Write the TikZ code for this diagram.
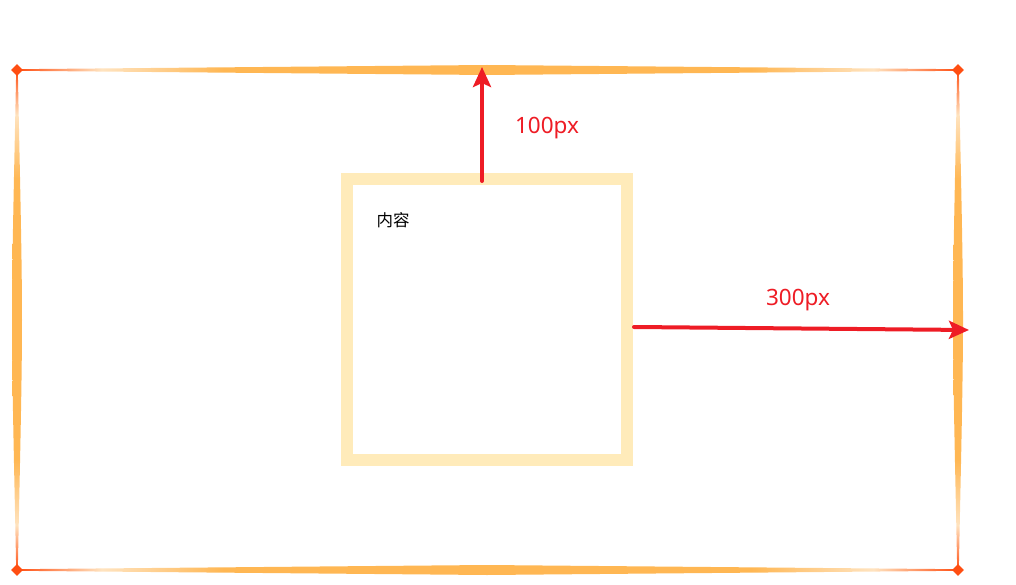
\documentclass[tikz,border=0pt]{standalone}
\usepackage{fontspec}
\setmainfont{Noto Sans}
\newfontfamily\cjk{Noto Sans CJK SC}
\usetikzlibrary{arrows.meta,shapes.geometric}
\definecolor{edgered}{HTML}{FF4E12}
\definecolor{edgepale}{HTML}{FFE3BF}
\definecolor{edgeorange}{HTML}{FFB753}
\definecolor{boxyellow}{HTML}{FFEBBA}
\definecolor{arrowred}{HTML}{EE1C25}
\pgfdeclarehorizontalshading{edgeshade}{100bp}{color(0bp)=(edgered); color(25bp)=(edgered); color(29.5bp)=(edgepale); color(36bp)=(edgeorange); color(64bp)=(edgeorange); color(70.5bp)=(edgepale); color(75bp)=(edgered); color(100bp)=(edgered)}
\tikzset{
  cornermark/.style={diamond, fill=edgered, inner sep=0pt, minimum size=12pt},
  edgefill/.style={shading=edgeshade},
  innerbox/.style={draw=boxyellow, line width=12pt, inner sep=0pt, minimum width=280pt, minimum height=281pt},
  redarrow/.style={draw=arrowred, line width=4pt, line cap=round, -{Stealth[length=20pt, width=18pt, inset=4pt]}},
  lbl/.style={text=arrowred, font=\fontsize{22.5}{24}\selectfont},
  contenttext/.style={font=\cjk\fontsize{16.5}{18}\selectfont, text=black, anchor=west}
}
\begin{document}
\begin{tikzpicture}[x=1pt,y=-1pt]
\useasboundingbox (0,0) rectangle (1016,585);
% tapered edges
\shade[edgefill] (17,69.2) -- (487,65) -- (958,69.2) -- (958,70.8) -- (487,75) -- (17,70.8) -- cycle;
\shade[edgefill] (17,569.2) -- (487,565) -- (958,569.2) -- (958,570.8) -- (487,575) -- (17,570.8) -- cycle;
\shade[edgefill, shading angle=90] (16.2,70) .. controls (14,180) and (12,260) .. (12,320) .. controls (12,380) and (14,460) .. (16.2,570) -- (17.8,570) .. controls (20,460) and (22,380) .. (22,320) .. controls (22,260) and (20,180) .. (17.8,70) -- cycle;
\shade[edgefill, shading angle=90] (957.2,70) .. controls (955,180) and (953,260) .. (953,320) .. controls (953,380) and (955,460) .. (957.2,570) -- (958.8,570) .. controls (961,460) and (963,380) .. (963,320) .. controls (963,260) and (961,180) .. (958.8,70) -- cycle;
% corners
\node[cornermark] (tl) at (17,70) {};
\node[cornermark] (tr) at (958,70) {};
\node[cornermark] (bl) at (17,570) {};
\node[cornermark] (br) at (958,570) {};
% inner box
\node[innerbox] (box) at (487,319.5) {};
\node[contenttext] (content) at (373,220) {内容};
% arrows
\coordinate (upstart) at (482,181);
\coordinate (uptip) at (482,67);
\coordinate (rstart) at (634,327);
\coordinate (rtip) at (969,330);
\draw[redarrow] (upstart) -- (uptip);
\draw[redarrow] (rstart) -- (rtip);
\node[lbl] (l100) at (547,128) {100px};
\node[lbl] (l300) at (798,300) {300px};
\end{tikzpicture}
\end{document}
